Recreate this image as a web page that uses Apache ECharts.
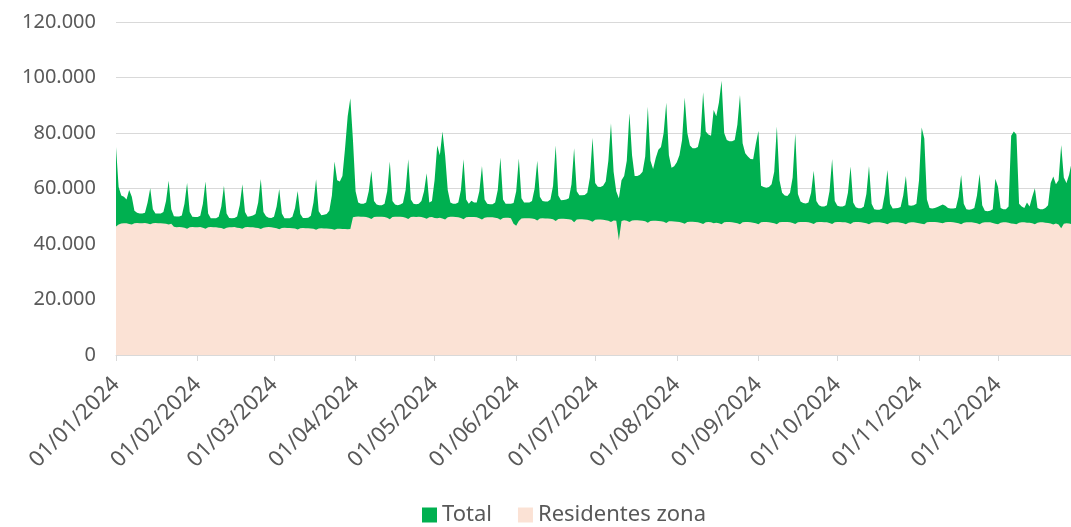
<!DOCTYPE html>
<html>
<head>
<meta charset="utf-8">
<script src="https://cdn.jsdelivr.net/npm/echarts@6/dist/echarts.min.js"></script>
<style>
  html, body { margin: 0; padding: 0; background: #ffffff; overflow: hidden; }
  #chart { width: 1071px; height: 527px; }
</style>
</head>
<body>
<div id="chart"></div>
<script>
// Daily visitors in the zone during 2024: total people vs. residents of the zone
const year = 2024;

const totalJan = [75000, 60500, 57500, 57000, 56000, 59500, 57000, 52000, 51300, 51000, 51000, 51300, 55000, 60100, 52500, 51000, 51000, 51000, 51500, 55500, 62800, 52500, 50000, 49900, 49900, 50300, 54500, 62000, 51500, 49800, 49700];
const totalFeb = [49700, 50200, 54500, 62500, 51000, 49300, 49300, 49300, 49800, 53500, 61000, 51000, 49400, 49300, 49400, 49900, 54000, 61500, 51500, 49800, 50000, 50300, 50800, 55000, 63400, 51500, 50000, 49500, 49400];
const totalMar = [49800, 53500, 59800, 51000, 49300, 49300, 49300, 49800, 53000, 59100, 50800, 49400, 49400, 49500, 50200, 55000, 63300, 51800, 50400, 50500, 50800, 52000, 57500, 69700, 63000, 62500, 64500, 74500, 86000, 92500, 77500];
const totalApr = [59000, 55000, 54500, 54500, 55000, 59000, 66400, 55500, 54200, 54000, 54000, 54500, 59000, 69700, 55500, 54200, 54000, 54200, 54800, 59500, 70500, 56000, 54500, 54300, 54500, 55500, 59000, 65500, 55000, 55500];
const totalMay = [63000, 75500, 72000, 80500, 72000, 59500, 55000, 54500, 54500, 55000, 59500, 70500, 56000, 54500, 55600, 55000, 55000, 59000, 68100, 56000, 54500, 54300, 54300, 55000, 59500, 71200, 56000, 54500, 54500, 54500, 54800];
const totalJun = [59000, 70800, 56500, 55000, 55000, 55000, 55500, 60000, 70000, 57000, 55500, 55300, 55300, 56000, 61000, 75500, 57500, 55800, 55900, 56000, 56500, 61500, 74500, 59000, 57600, 57600, 57700, 58500, 64000, 78300];
const totalJul = [62000, 60600, 60500, 61000, 62500, 70000, 83500, 66000, 59000, 56500, 63000, 64500, 70000, 87100, 72000, 64500, 64500, 65000, 66000, 71500, 89500, 70000, 67000, 71000, 74000, 75000, 80000, 90900, 72000, 67500, 68000];
const totalAug = [69500, 72000, 77500, 92800, 80000, 75500, 74500, 74500, 75000, 79000, 94700, 80500, 79500, 79000, 88300, 86000, 91000, 98800, 80000, 77500, 77000, 77000, 77500, 83000, 93700, 76300, 72700, 71500, 70600, 70500, 76000];
const totalSep = [80700, 61000, 60500, 60300, 60500, 61500, 66000, 82300, 63000, 58500, 57500, 57300, 58500, 64000, 79900, 58000, 55300, 54800, 54600, 55000, 58500, 66400, 55500, 54000, 53500, 53500, 54000, 59000, 70600, 55500];
const totalOct = [53800, 53500, 53500, 54000, 58500, 67900, 55000, 53200, 52900, 52900, 53400, 58000, 68100, 54500, 52500, 52300, 52300, 52800, 58000, 66700, 54500, 52800, 52900, 53000, 53300, 57500, 64500, 54000, 53800, 54000, 54500];
const totalNov = [63000, 82000, 78000, 56000, 53000, 52800, 53000, 53300, 53800, 54200, 53800, 53000, 52800, 52800, 53000, 57000, 64900, 54500, 52500, 52300, 52500, 53000, 57500, 65200, 54000, 52000, 51800, 52000, 52500, 63500];
const totalDec = [60500, 53000, 52500, 52500, 53500, 79000, 80500, 79500, 54500, 53500, 53000, 55000, 53500, 57000, 60100, 53000, 52500, 52500, 53000, 54000, 62000, 64300, 61500, 63000, 75700, 64000, 62000, 65000, 69500, 64000, 62000];

const resJan = [46300, 47000, 47400, 47500, 47500, 47200, 47000, 47500, 47600, 47500, 47500, 47600, 47400, 47100, 47500, 47600, 47500, 47500, 47400, 47300, 47000, 47300, 46200, 46000, 46100, 46000, 45900, 45500, 46000, 46100, 46000];
const resFeb = [46000, 46100, 45900, 45500, 46000, 46100, 46000, 46000, 45900, 45800, 45400, 45900, 46000, 46000, 46100, 45900, 45800, 45500, 46000, 46100, 46000, 46000, 45900, 45800, 45400, 45900, 46000, 46100, 46000];
const resMar = [45900, 45700, 45300, 45800, 45900, 45800, 45800, 45700, 45600, 45200, 45700, 45800, 45700, 45700, 45600, 45500, 45100, 45600, 45700, 45600, 45600, 45500, 45400, 45100, 45500, 45500, 45400, 45400, 45300, 45400, 49600];
const resApr = [49800, 49900, 49800, 49800, 49700, 49500, 49000, 49700, 49800, 49800, 49800, 49700, 49500, 48900, 49700, 49800, 49800, 49800, 49700, 49500, 49000, 49700, 49800, 49700, 49800, 49700, 49500, 49100, 49600, 49700];
const resMay = [49400, 49300, 49500, 49200, 48800, 49600, 49800, 49800, 49700, 49600, 49400, 48900, 49600, 49700, 49700, 49700, 49600, 49300, 48800, 49500, 49600, 49600, 49600, 49500, 49300, 48700, 49400, 49500, 49500, 49300, 47300];
const resJun = [46600, 48300, 49200, 49300, 49300, 49300, 49200, 49000, 48500, 49200, 49300, 49200, 49200, 49100, 48900, 48300, 49000, 49100, 49100, 49000, 48900, 48700, 47800, 48800, 48900, 48900, 48800, 48700, 48500, 48000];
const resJul = [48700, 48800, 48800, 48700, 48600, 48400, 47900, 48500, 48400, 41400, 48300, 48600, 48400, 47900, 48500, 48600, 48600, 48500, 48400, 48200, 47700, 48300, 48400, 48400, 48300, 48200, 48000, 47600, 48200, 48200, 48100];
const resAug = [48000, 47900, 47700, 47300, 47900, 48000, 48000, 47900, 47800, 47600, 47200, 47800, 47900, 47800, 47500, 47700, 47500, 47100, 47800, 47900, 47900, 47800, 47700, 47500, 47100, 47800, 47900, 47900, 47800, 47700, 47500];
const resSep = [47100, 47800, 47900, 47900, 47800, 47700, 47500, 47100, 47800, 47900, 47900, 47900, 47800, 47600, 47200, 47800, 47900, 47900, 47900, 47800, 47600, 47200, 47800, 47900, 47900, 47800, 47800, 47600, 47200, 47800];
const resOct = [47900, 47900, 47800, 47800, 47600, 47200, 47800, 47900, 47900, 47800, 47700, 47500, 47100, 47700, 47800, 47800, 47800, 47700, 47500, 47100, 47700, 47800, 47800, 47800, 47700, 47500, 47100, 47700, 47800, 47800, 47700];
const resNov = [47500, 47300, 47100, 47800, 47900, 47900, 47900, 47800, 47700, 47500, 47800, 47900, 47900, 47800, 47700, 47500, 47100, 47700, 47800, 47800, 47800, 47700, 47500, 47100, 47700, 47800, 47800, 47800, 47600, 47300];
const resDec = [47100, 47700, 47800, 47800, 47700, 47400, 47300, 47100, 47700, 47800, 47800, 47700, 47700, 47500, 47100, 47700, 47800, 47800, 47700, 47600, 47400, 47000, 47400, 47000, 45700, 47300, 47500, 47400, 47100, 47300, 47400];

const seriesNames = ['Total', 'Residentes zona'];
const yTicks = { min: 0, max: 120000, step: 20000 };

const total = [].concat(totalJan, totalFeb, totalMar, totalApr, totalMay, totalJun,
                        totalJul, totalAug, totalSep, totalOct, totalNov, totalDec);
const residentes = [].concat(resJan, resFeb, resMar, resApr, resMay, resJun,
                             resJul, resAug, resSep, resOct, resNov, resDec);

// One category per day, labelled dd/mm/yyyy
const pad = n => (n < 10 ? '0' : '') + n;
const dates = [];
for (let i = 0; i < total.length; i++) {
  const d = new Date(Date.UTC(year, 0, 1 + i));
  dates.push(pad(d.getUTCDate()) + '/' + pad(d.getUTCMonth() + 1) + '/' + d.getUTCFullYear());
}
const isMonthStart = (idx, val) => val.slice(0, 3) === '01/';
const thousands = v => String(v).replace(/\B(?=(\d{3})+(?!\d))/g, '.');

const FONT = '"Noto Sans", "Open Sans", sans-serif';
const TEXT = '#595959';
const GRID = '#d9d9d9';

const chart = echarts.init(document.getElementById('chart'), null, { renderer: 'canvas' });
chart.setOption({
  animation: false,
  backgroundColor: '#ffffff',
  textStyle: { fontFamily: FONT },
  // the plot runs a few pixels past the right edge of the page
  grid: {
    left: 116, top: 22, width: 961, height: 333,
    containLabel: false, outerBoundsMode: 'none'
  },
  legend: {
    data: seriesNames,
    left: 422, top: 504, padding: 0,
    icon: 'rect', itemWidth: 15, itemHeight: 15, itemGap: 26,
    textStyle: { color: TEXT, fontSize: 22, fontFamily: FONT }
  },
  xAxis: {
    type: 'category',
    data: dates,
    boundaryGap: false,
    axisLine: { lineStyle: { color: GRID, width: 1 } },
    axisTick: { show: true, interval: isMonthStart, length: 6, lineStyle: { color: GRID } },
    axisLabel: {
      interval: isMonthStart, rotate: 45, margin: 26,
      color: TEXT, fontSize: 22, fontFamily: FONT
    },
    splitLine: { show: false }
  },
  yAxis: {
    type: 'value',
    min: yTicks.min, max: yTicks.max, interval: yTicks.step,
    axisLine: { show: false }, axisTick: { show: false },
    axisLabel: { formatter: thousands, color: TEXT, fontSize: 20, margin: 20, fontFamily: FONT },
    splitLine: { lineStyle: { color: GRID, width: 1 } }
  },
  series: [
    {
      name: seriesNames[0], type: 'line', data: total,
      showSymbol: false, symbol: 'none',
      lineStyle: { width: 0, color: '#00B050' },
      itemStyle: { color: '#00B050' },
      areaStyle: { color: '#00B050', opacity: 1 }
    },
    {
      name: seriesNames[1], type: 'line', data: residentes,
      showSymbol: false, symbol: 'none',
      lineStyle: { width: 0, color: '#FBE2D5' },
      itemStyle: { color: '#FBE2D5' },
      areaStyle: { color: '#FBE2D5', opacity: 1 }
    }
  ]
});
</script>
</body>
</html>
